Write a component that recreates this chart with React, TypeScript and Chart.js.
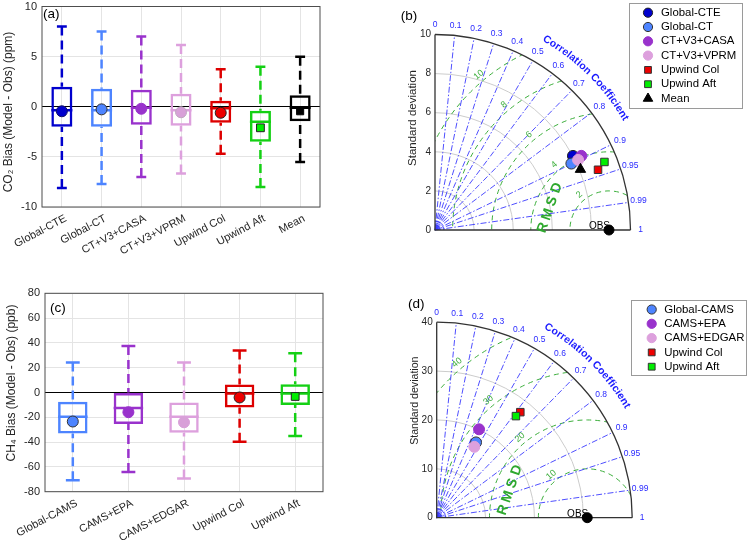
import React, { useEffect, useRef } from "react";
import { Chart, registerables } from "chart.js";

Chart.register(...registerables);

const FONT = "'Liberation Sans', Arial, Helvetica, sans-serif";
const TEXT = "#262626";

// ===== Panel (a): CO2 bias box plot =====
const co2Categories = ["Global-CTE", "Global-CT", "CT+V3+CASA", "CT+V3+VPRM", "Upwind Col", "Upwind Aft", "Mean"];
const co2Low = [-8.1, -7.7, -7.0, -6.65, -4.7, -8.0, -5.5];
const co2Q1 = [-2.0, -2.0, -1.8, -1.9, -1.6, -3.5, -1.45];
const co2Median = [-0.36, -0.36, -0.1, -0.36, -0.15, -1.5, -0.1];
const co2Q3 = [2.0, 1.8, 1.7, 1.3, 0.6, -0.4, 1.15];
const co2High = [8.0, 7.5, 7.0, 6.15, 3.75, 4.0, 5.0];
const co2Mean = [-0.45, -0.26, -0.2, -0.55, -0.6, -2.1, -0.45];

// ===== Panel (c): CH4 bias box plot =====
const ch4Categories = ["Global-CAMS", "CAMS+EPA", "CAMS+EDGAR", "Upwind Col", "Upwind Aft"];
const ch4Low = [-70.7, -64.2, -69.4, -39.8, -35.0];
const ch4Q1 = [-33.0, -25.5, -32.5, -12.1, -10.0];
const ch4Median = [-19.6, -12.6, -19.6, -0.8, -0.8];
const ch4Q3 = [-7.5, 0.0, -8.0, 6.5, 6.7];
const ch4High = [24.2, 37.4, 24.2, 33.9, 31.7];
const ch4Mean = [-23.4, -15.9, -24.0, -4.0, -3.2];

// ===== Panel (b): CO2 Taylor diagram =====
const co2TaylorNames = ["Global-CTE", "Global-CT", "CT+V3+CASA", "CT+V3+VPRM", "Upwind Col", "Upwind Aft", "Mean"];
const co2TaylorStd = [8.01, 7.76, 8.39, 8.15, 8.89, 9.34, 8.06];
const co2TaylorCorr = [0.881, 0.899, 0.892, 0.898, 0.938, 0.928, 0.923];
const co2ObsStd = 8.9;
const co2StdTicks = [0, 2, 4, 6, 8, 10];
const co2RmsLevels = [2, 4, 6, 8, 10];

// ===== Panel (d): CH4 Taylor diagram =====
const ch4TaylorNames = ["Global-CAMS", "CAMS+EPA", "CAMS+EDGAR", "Upwind Col", "Upwind Aft"];
const ch4TaylorStd = [17.38, 20.06, 16.42, 27.55, 26.36];
const ch4TaylorCorr = [0.463, 0.432, 0.469, 0.621, 0.615];
const ch4ObsStd = 30.8;
const ch4StdTicks = [0, 10, 20, 30, 40];
const ch4RmsLevels = [10, 20, 30, 40];

const corrTicks = [0.1, 0.2, 0.3, 0.4, 0.5, 0.6, 0.7, 0.8, 0.9, 0.95, 0.99];

// ===== styles =====
const DARKBLUE = "#0000cd";
const LIGHTBLUE = "#4d84ff";
const PURPLE = "#9932cc";
const PINK = "#dda0dd";
const RED = "#dd0000";
const GREEN = "#14d014";
const BRIGHTGREEN = "#00ee00";

type Shape = "circle" | "rect" | "triangle";

interface Area { left: number; top: number; right: number; bottom: number }

interface BoxDef {
  tag: string; tagAt: [number, number];
  yTitle: string; yTitleAt: [number, number]; yTitleSize: number;
  categories: string[];
  lo: number[]; q1: number[]; med: number[]; q3: number[]; hi: number[]; mean: number[];
  yMin: number; yMax: number; yStep: number;
  colors: string[]; shapes: Shape[]; fills: string[]; edges: string[]; sizes: number[];
  width: number; height: number; area: Area;
}

interface TaylorDef {
  tag: string; tagAt: [number, number];
  yTitleAt: [number, number]; yTitleSize: number;
  names: string[]; std: number[]; corr: number[]; obs: number;
  stdTicks: number[]; rmsLevels: number[];
  shapes: Shape[]; fills: string[]; edges: string[]; sizes: number[]; legendSizes: number[];
  rmsdAt: [number, number];
  legend: { x: number; y: number; w: number; h: number; row0: number; rowH: number; mx: number; tx: number };
  width: number; height: number; area: Area;
}

function zeroPad(s: any) {
  s.paddingTop = 0;
  s.paddingBottom = 0;
  s.paddingLeft = 0;
  s.paddingRight = 0;
}

function drawMarker(ctx: CanvasRenderingContext2D, shape: Shape, x: number, y: number, r: number, fill: string, edge: string) {
  ctx.beginPath();
  if (shape === "circle") ctx.arc(x, y, r, 0, Math.PI * 2);
  else if (shape === "rect") {
    const h = r * Math.SQRT1_2;
    ctx.rect(x - h, y - h, 2 * h, 2 * h);
  } else {
    ctx.moveTo(x, y - r);
    ctx.lineTo(x + r * 0.866, y + r * 0.5);
    ctx.lineTo(x - r * 0.866, y + r * 0.5);
    ctx.closePath();
  }
  ctx.fillStyle = fill;
  ctx.fill();
  ctx.strokeStyle = edge;
  ctx.lineWidth = 1;
  ctx.stroke();
}

function drawTag(ctx: CanvasRenderingContext2D, tag: string, at: [number, number]) {
  ctx.save();
  ctx.fillStyle = "#000";
  ctx.font = `13.5px ${FONT}`;
  ctx.textAlign = "left";
  ctx.textBaseline = "top";
  ctx.fillText(tag, at[0], at[1]);
  ctx.restore();
}

function drawYTitle(ctx: CanvasRenderingContext2D, text: string, at: [number, number], size: number) {
  ctx.save();
  ctx.translate(at[0], at[1]);
  ctx.rotate(-Math.PI / 2);
  ctx.fillStyle = TEXT;
  ctx.font = `${size}px ${FONT}`;
  ctx.textAlign = "center";
  ctx.textBaseline = "middle";
  ctx.fillText(text, 0, 0);
  ctx.restore();
}

function boxPlugin(d: BoxDef) {
  return {
    id: "boxWhiskers",
    beforeDatasetsDraw(chart: any) {
      const { ctx } = chart;
      const xs = chart.scales.x, ys = chart.scales.y;
      const meta = chart.getDatasetMeta(1);
      ctx.save();
      d.categories.forEach((_, i) => {
        const x = xs.getPixelForValue(i);
        const bw = meta.data[i].width;
        const cap = bw * 0.47;
        ctx.strokeStyle = d.colors[i];
        ctx.lineWidth = 2.5;
        ctx.setLineDash([9, 5]);
        ctx.beginPath();
        ctx.moveTo(x, ys.getPixelForValue(d.hi[i]));
        ctx.lineTo(x, ys.getPixelForValue(d.q3[i]));
        ctx.moveTo(x, ys.getPixelForValue(d.lo[i]));
        ctx.lineTo(x, ys.getPixelForValue(d.q1[i]));
        ctx.stroke();
        ctx.setLineDash([]);
        ctx.beginPath();
        [d.hi[i], d.lo[i]].forEach((v) => {
          const y = ys.getPixelForValue(v);
          ctx.moveTo(x - cap / 2, y);
          ctx.lineTo(x + cap / 2, y);
        });
        const ym = ys.getPixelForValue(d.med[i]);
        ctx.moveTo(x - bw / 2, ym);
        ctx.lineTo(x + bw / 2, ym);
        ctx.stroke();
      });
      ctx.restore();
    },
    afterDraw(chart: any) {
      const { ctx, chartArea: ca } = chart;
      ctx.save();
      ctx.strokeStyle = "#4d4d4d";
      ctx.lineWidth = 1;
      ctx.strokeRect(ca.left, ca.top, ca.right - ca.left, ca.bottom - ca.top);
      ctx.restore();
      drawTag(ctx, d.tag, d.tagAt);
      drawYTitle(ctx, d.yTitle, d.yTitleAt, d.yTitleSize);
    },
  };
}

function makeBoxConfig(d: BoxDef): any {
  return {
    type: "bar",
    data: {
      labels: d.categories,
      datasets: [
        {
          type: "line",
          data: d.mean,
          showLine: false,
          order: 0,
          pointStyle: d.shapes,
          pointRadius: d.sizes,
          pointBackgroundColor: d.fills,
          pointBorderColor: d.edges,
          pointBorderWidth: 1,
        },
        {
          type: "bar",
          data: d.categories.map((_, i) => [d.q1[i], d.q3[i]]),
          order: 1,
          backgroundColor: "rgba(0,0,0,0)",
          borderColor: d.colors,
          borderWidth: 2.5,
          borderSkipped: false,
          barPercentage: 0.53,
          categoryPercentage: 1,
        },
      ],
    },
    options: {
      responsive: false,
      animation: false,
      devicePixelRatio: 1,
      events: [],
      layout: { padding: { left: 0, top: d.area.top, right: d.width - d.area.right, bottom: 0 } },
      plugins: { legend: { display: false }, tooltip: { enabled: false } },
      scales: {
        x: {
          type: "category",
          offset: true,
          grid: { offset: false, color: "#e4e4e4", drawTicks: false, lineWidth: 1 },
          border: { display: false },
          ticks: {
            autoSkip: false, minRotation: 28, maxRotation: 28, padding: 5, labelOffset: 4,
            color: TEXT, font: { family: FONT, size: 11 },
          },
          afterFit: (s: any) => { s.height = d.height - d.area.bottom; zeroPad(s); },
        },
        y: {
          type: "linear",
          min: d.yMin,
          max: d.yMax,
          grid: {
            color: (c: any) => (c.tick && c.tick.value === 0 ? "#000000" : "#e4e4e4"),
            drawTicks: false,
          },
          border: { display: false },
          ticks: { stepSize: d.yStep, padding: 5, color: TEXT, font: { family: FONT, size: 11 } },
          afterFit: (s: any) => { s.width = d.area.left; zeroPad(s); },
        },
      },
    },
    plugins: [boxPlugin(d)],
  };
}

function taylorPlugin(d: TaylorDef) {
  return {
    id: "taylorGrid",
    beforeDatasetsDraw(chart: any) {
      const { ctx } = chart;
      const xs = chart.scales.x, ys = chart.scales.y;
      const R = d.stdTicks[d.stdTicks.length - 1];
      const ox = xs.getPixelForValue(0), oy = ys.getPixelForValue(0);
      const rp = (v: number) => xs.getPixelForValue(v) - ox;
      const Rpx = rp(R);
      const cx = xs.getPixelForValue(d.obs);
      ctx.save();
      // std arcs
      ctx.strokeStyle = "#cccccc";
      ctx.lineWidth = 1;
      d.stdTicks.forEach((t) => {
        if (t > 0 && t < R) {
          ctx.beginPath();
          ctx.arc(ox, oy, rp(t), -Math.PI / 2, 0);
          ctx.stroke();
        }
      });
      // RMS circles
      ctx.save();
      ctx.beginPath();
      ctx.moveTo(ox, oy);
      ctx.arc(ox, oy, Rpx, -Math.PI / 2, 0);
      ctx.closePath();
      ctx.clip();
      ctx.strokeStyle = "#3cae3c";
      ctx.lineWidth = 1;
      ctx.setLineDash([5, 4]);
      d.rmsLevels.forEach((L) => {
        ctx.beginPath();
        ctx.arc(cx, oy, rp(L), 0, Math.PI * 2);
        ctx.stroke();
      });
      ctx.restore();
      // radial correlation lines
      ctx.strokeStyle = "#3b3bff";
      ctx.lineWidth = 0.9;
      ctx.setLineDash([6, 2, 1.5, 2]);
      corrTicks.forEach((c) => {
        const a = Math.acos(c);
        ctx.beginPath();
        ctx.moveTo(ox, oy);
        ctx.lineTo(ox + Rpx * Math.cos(a), oy - Rpx * Math.sin(a));
        ctx.stroke();
      });
      [3, 5, 7, 9].forEach((r) => {
        ctx.beginPath();
        ctx.arc(ox, oy, r, -Math.PI / 2, 0);
        ctx.stroke();
      });
      ctx.setLineDash([]);
      // frame
      ctx.strokeStyle = "#333333";
      ctx.lineWidth = 1.3;
      ctx.beginPath();
      ctx.moveTo(ox, oy - Rpx);
      ctx.lineTo(ox, oy);
      ctx.lineTo(ox + Rpx, oy);
      ctx.stroke();
      ctx.beginPath();
      ctx.arc(ox, oy, Rpx, -Math.PI / 2, 0);
      ctx.stroke();
      // correlation labels
      ctx.fillStyle = "#2a2aff";
      ctx.font = `8.5px ${FONT}`;
      ctx.textAlign = "center";
      ctx.textBaseline = "middle";
      [0, ...corrTicks, 1].forEach((c) => {
        const a = Math.acos(c);
        ctx.fillText(String(c), ox + (Rpx + 10) * Math.cos(a), oy - (Rpx + 10) * Math.sin(a));
      });
      // curved title
      const title = "Correlation Coefficient";
      ctx.font = `bold 10.5px ${FONT}`;
      ctx.fillStyle = "#1a1aff";
      const rr = Rpx + 25;
      const a0 = (60.5 * Math.PI) / 180, a1 = (30 * Math.PI) / 180;
      const chars = title.split("");
      const widths = chars.map((ch) => ctx.measureText(ch).width);
      const sum = widths.reduce((p, q) => p + q, 0);
      const gap = ((a0 - a1) * rr - sum) / (chars.length - 1);
      let s = 0;
      chars.forEach((ch, i) => {
        const a = a0 - (s + widths[i] / 2) / rr;
        ctx.save();
        ctx.translate(ox + rr * Math.cos(a), oy - rr * Math.sin(a));
        ctx.rotate(Math.PI / 2 - a);
        ctx.fillText(ch, 0, 0);
        ctx.restore();
        s += widths[i] + gap;
      });
      // RMS labels
      ctx.fillStyle = "#3cae3c";
      ctx.font = `9px ${FONT}`;
      const phi = (130 * Math.PI) / 180;
      d.rmsLevels.forEach((L) => {
        const r = rp(L) + 7;
        ctx.save();
        ctx.translate(cx + r * Math.cos(phi), oy - r * Math.sin(phi));
        ctx.rotate(-(phi - Math.PI / 2));
        ctx.fillText(String(L), 0, 0);
        ctx.restore();
      });
      // RMSD word
      ctx.save();
      ctx.translate(xs.getPixelForValue(d.rmsdAt[0]), ys.getPixelForValue(d.rmsdAt[1]));
      ctx.rotate((-71 * Math.PI) / 180);
      ctx.font = `bold 14px ${FONT}`;
      ctx.fillStyle = "#2ea82e";
      "RMSD".split("").forEach((ch, i) => ctx.fillText(ch, (i - 1.5) * 14, 0));
      ctx.restore();
      // OBS label
      ctx.fillStyle = "#000";
      ctx.font = `10px ${FONT}`;
      ctx.textAlign = "right";
      ctx.textBaseline = "alphabetic";
      ctx.fillText("OBS", cx + 1, oy - 1);
      ctx.restore();
    },
    afterDraw(chart: any) {
      const { ctx } = chart;
      const L = d.legend;
      ctx.save();
      ctx.fillStyle = "#fff";
      ctx.fillRect(L.x, L.y, L.w, L.h);
      ctx.strokeStyle = "#9a9a9a";
      ctx.lineWidth = 1;
      ctx.strokeRect(L.x + 0.5, L.y + 0.5, L.w, L.h);
      d.names.forEach((n, i) => {
        const y = L.row0 + i * L.rowH;
        drawMarker(ctx, d.shapes[i], L.mx, y, d.legendSizes[i], d.fills[i], d.edges[i]);
        ctx.fillStyle = "#000";
        ctx.font = `11.4px ${FONT}`;
        ctx.textAlign = "left";
        ctx.textBaseline = "middle";
        ctx.fillText(n, L.tx, y);
      });
      ctx.restore();
      drawTag(ctx, d.tag, d.tagAt);
      drawYTitle(ctx, "Standard deviation", d.yTitleAt, d.yTitleSize);
    },
  };
}

function makeTaylorConfig(d: TaylorDef): any {
  const R = d.stdTicks[d.stdTicks.length - 1];
  const datasets: any[] = d.names.map((n, i) => ({
    label: n,
    order: -i,
    data: [{ x: d.std[i] * d.corr[i], y: d.std[i] * Math.sqrt(1 - d.corr[i] * d.corr[i]) }],
    pointStyle: d.shapes[i],
    pointRadius: d.sizes[i],
    pointBackgroundColor: d.fills[i],
    pointBorderColor: d.edges[i],
    pointBorderWidth: 1,
    clip: false,
  }));
  datasets.push({
    label: "OBS",
    order: -100,
    data: [{ x: d.obs, y: 0 }],
    pointStyle: "circle",
    pointRadius: 5,
    pointBackgroundColor: "#000",
    pointBorderColor: "#000",
    pointBorderWidth: 1,
    clip: false,
  });
  return {
    type: "scatter",
    data: { datasets },
    options: {
      responsive: false,
      animation: false,
      devicePixelRatio: 1,
      events: [],
      layout: {
        padding: { left: 0, top: d.area.top, right: d.width - d.area.right, bottom: d.height - d.area.bottom },
      },
      plugins: { legend: { display: false }, tooltip: { enabled: false } },
      scales: {
        x: { type: "linear", min: 0, max: R, display: false },
        y: {
          type: "linear",
          min: 0,
          max: R,
          grid: { display: false, drawTicks: false },
          border: { display: false },
          ticks: { stepSize: d.stdTicks[1] - d.stdTicks[0], padding: 4, color: TEXT, font: { family: FONT, size: 10 } },
          afterFit: (s: any) => { s.width = d.area.left; zeroPad(s); },
        },
      },
    },
    plugins: [taylorPlugin(d)],
  };
}

const panelA: BoxDef = {
  tag: "(a)", tagAt: [43, 7.5],
  yTitle: "CO\u2082 Bias (Model - Obs) (ppm)", yTitleAt: [9, 112], yTitleSize: 12,
  categories: co2Categories,
  lo: co2Low, q1: co2Q1, med: co2Median, q3: co2Q3, hi: co2High, mean: co2Mean,
  yMin: -10, yMax: 10, yStep: 5,
  colors: [DARKBLUE, LIGHTBLUE, PURPLE, PINK, RED, GREEN, "#000000"],
  shapes: ["circle", "circle", "circle", "circle", "circle", "rect", "rect"],
  fills: [DARKBLUE, LIGHTBLUE, PURPLE, "#d8a0d8", "#ee0000", BRIGHTGREEN, "#000000"],
  edges: ["#10106a", "#333333", PURPLE, "#c0a8c0", "#222222", "#222222", "#000000"],
  sizes: [5.5, 5.5, 5.5, 5.5, 5.5, 5.5, 5],
  width: 375, height: 270, area: { left: 42, top: 5.5, right: 320, bottom: 207 },
};

const panelC: BoxDef = {
  tag: "(c)", tagAt: [50, 32],
  yTitle: "CH\u2084 Bias (Model - Obs) (ppb)", yTitleAt: [12, 113], yTitleSize: 12,
  categories: ch4Categories,
  lo: ch4Low, q1: ch4Q1, med: ch4Median, q3: ch4Q3, hi: ch4High, mean: ch4Mean,
  yMin: -80, yMax: 80, yStep: 20,
  colors: [LIGHTBLUE, PURPLE, PINK, RED, GREEN],
  shapes: ["circle", "circle", "circle", "circle", "rect"],
  fills: [LIGHTBLUE, PURPLE, "#d8a0d8", "#ee0000", BRIGHTGREEN],
  edges: ["#333333", PURPLE, "#d8a0d8", "#222222", "#222222"],
  sizes: [5.5, 5.5, 5.5, 5.5, 5.5],
  width: 375, height: 276, area: { left: 45, top: 23.3, right: 323, bottom: 221.7 },
};

const panelB: TaylorDef = {
  tag: "(b)", tagAt: [25.7, 9.5],
  yTitleAt: [38.3, 118], yTitleSize: 11.5,
  names: co2TaylorNames, std: co2TaylorStd, corr: co2TaylorCorr, obs: co2ObsStd,
  stdTicks: co2StdTicks, rmsLevels: co2RmsLevels,
  shapes: ["circle", "circle", "circle", "circle", "rect", "rect", "triangle"],
  fills: [DARKBLUE, LIGHTBLUE, PURPLE, PINK, "#ee0000", BRIGHTGREEN, "#000000"],
  edges: ["#222222", "#333333", PURPLE, PINK, "#333333", "#333333", "#000000"],
  sizes: [5.5, 5.5, 5.5, 5.5, 5.3, 5.3, 6],
  legendSizes: [4.6, 4.6, 4.6, 4.6, 4.8, 4.8, 5.5],
  rmsdAt: [5.88, 1.13],
  legend: { x: 254, y: 3, w: 113, h: 105, row0: 12.7, rowH: 14.3, mx: 273, tx: 286 },
  width: 375, height: 270, area: { left: 60, top: 34.5, right: 255.5, bottom: 230 },
};

const panelD: TaylorDef = {
  tag: "(d)", tagAt: [33, 27.5],
  yTitleAt: [40, 130.7], yTitleSize: 10.6,
  names: ch4TaylorNames, std: ch4TaylorStd, corr: ch4TaylorCorr, obs: ch4ObsStd,
  stdTicks: ch4StdTicks, rmsLevels: ch4RmsLevels,
  shapes: ["circle", "circle", "circle", "rect", "rect"],
  fills: [LIGHTBLUE, PURPLE, PINK, "#ee0000", BRIGHTGREEN],
  edges: ["#333333", PURPLE, PINK, "#333333", "#333333"],
  sizes: [5.5, 5.5, 5.5, 5.3, 5.3],
  legendSizes: [4.6, 4.6, 4.6, 4.8, 4.8],
  rmsdAt: [15.0, 5.67],
  legend: { x: 256, y: 30, w: 115, h: 75, row0: 39.5, rowH: 14.3, mx: 276.7, tx: 289.3 },
  width: 375, height: 276, area: { left: 61.7, top: 52.2, right: 257.2, bottom: 247.7 },
};

function ChartCanvas(props: { make: () => any; left: number; top: number; width: number; height: number }) {
  const ref = useRef<HTMLCanvasElement>(null);
  useEffect(() => {
    const chart = new Chart(ref.current as HTMLCanvasElement, props.make());
    return () => chart.destroy();
  }, []);
  return (
    <canvas
      ref={ref}
      width={props.width}
      height={props.height}
      style={{ position: "absolute", left: props.left, top: props.top, width: props.width, height: props.height }}
    />
  );
}

export default function App() {
  return (
    <div style={{ position: "absolute", left: 0, top: 0, width: 750, height: 546, background: "#fff", overflow: "hidden" }}>
      <ChartCanvas make={() => makeBoxConfig(panelA)} left={0} top={0} width={375} height={270} />
      <ChartCanvas make={() => makeTaylorConfig(panelB)} left={375} top={0} width={375} height={270} />
      <ChartCanvas make={() => makeBoxConfig(panelC)} left={0} top={270} width={375} height={276} />
      <ChartCanvas make={() => makeTaylorConfig(panelD)} left={375} top={270} width={375} height={276} />
    </div>
  );
}
